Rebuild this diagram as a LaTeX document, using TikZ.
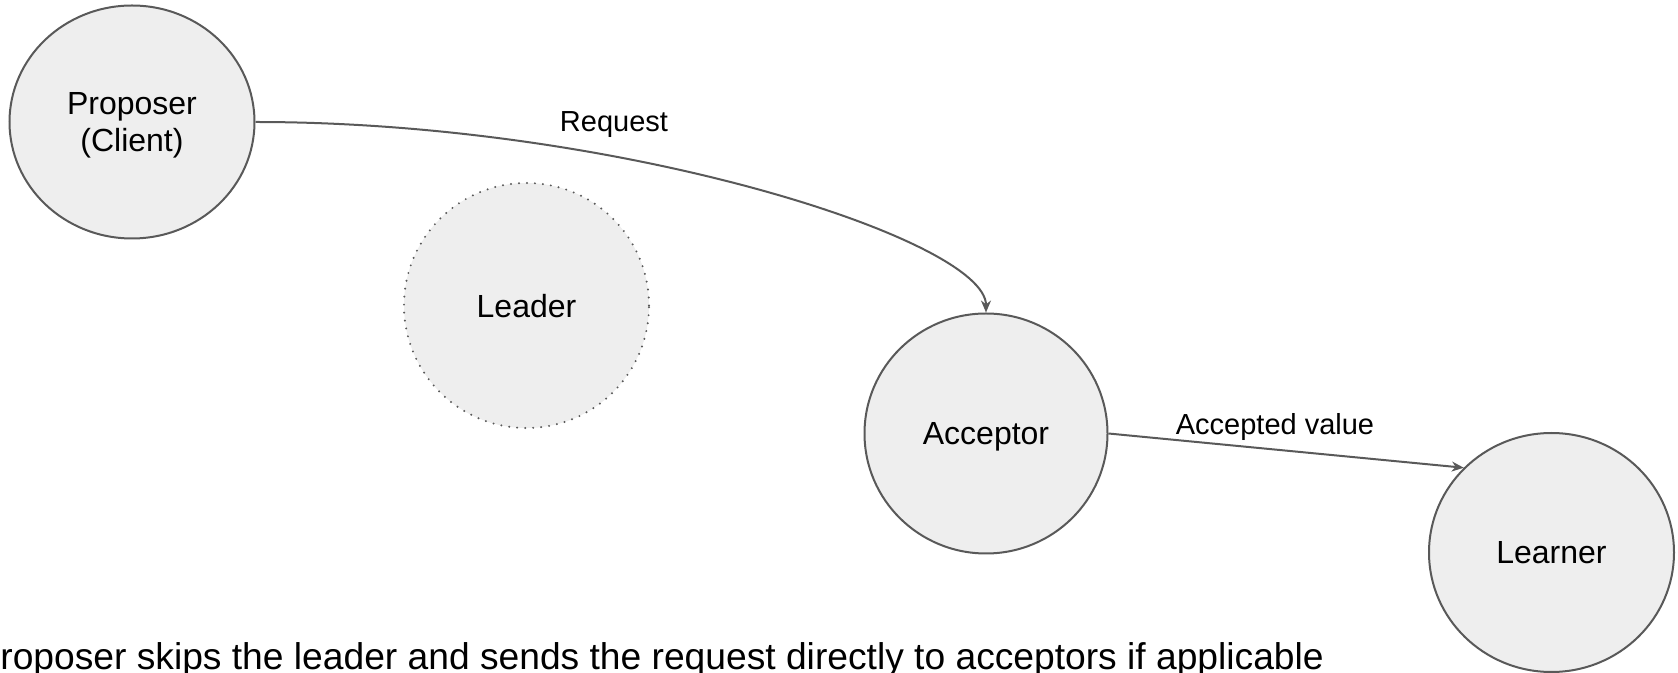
\documentclass[tikz,border=0pt]{standalone}
\usepackage{fontspec}
\setmainfont{Liberation Sans}
\usetikzlibrary{shapes.geometric,arrows.meta}
\definecolor{edgegray}{HTML}{595959}
\definecolor{nodefill}{HTML}{EEEEEE}
\tikzset{
  role/.style={ellipse, draw=edgegray, line width=1pt, fill=nodefill,
    inner sep=0pt, align=center, text=black, text depth=0pt,
    font=\fontsize{16}{18.6}\selectfont},
  optionalrole/.style={role, line width=1.1pt, dash pattern=on 0pt off 4pt, line cap=round},
  msg/.style={draw=edgegray, line width=1pt, -{Stealth[length=6pt,width=5pt]}},
  msglabel/.style={font=\fontsize{14.5}{17}\selectfont, inner sep=0pt, anchor=base},
  note/.style={font=\fontsize{18.6}{22}\selectfont, inner sep=0pt, anchor=base west}
}
\begin{document}
\begin{tikzpicture}[x=0.5pt,y=-0.5pt]
\useasboundingbox (0,0) rectangle (1678,673);
\clip (0,0) rectangle (1678,673);

% participants
\node[role, minimum width=122.5pt, minimum height=116.5pt] (prop) at (132,122) {Proposer\\(Client)};
\node[optionalrole, minimum width=122.5pt, minimum height=122.5pt] (lead) at (526.5,305.5) {Leader};
\node[role, minimum width=121.5pt, minimum height=120pt] (acc) at (986,433.5) {Acceptor};
\node[role, minimum width=122.5pt, minimum height=119.5pt] (lrn) at (1551.5,552.5) {Learner};

% messages
\draw[msg] (prop.east) .. controls (620,122) and (986,240) .. (acc.north);
\node[msglabel] (reqlbl) at (614,132) {Request};
\draw[msg] (acc.east) -- (lrn.136);
\node[msglabel] (acclbl) at (1275,435) {Accepted value};

% caption
\node[note] (cap) at (0,670) {roposer skips the leader and sends the request directly to acceptors if applicable};
\end{tikzpicture}
\end{document}
